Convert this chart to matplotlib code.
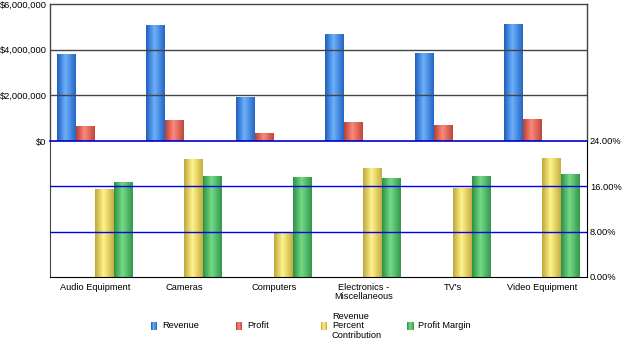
import numpy as np
import matplotlib
matplotlib.use("Agg")
import matplotlib.pyplot as plt
from matplotlib.colors import LinearSegmentedColormap
from matplotlib.ticker import FuncFormatter

categories = ["Audio Equipment", "Cameras", "Computers",
              "Electronics -\nMiscellaneous", "TV's", "Video Equipment"]
revenue = [3810000, 5080000, 1930000, 4690000, 3850000, 5120000]
profit = [660000, 920000, 350000, 830000, 700000, 960000]
rev_pct = [15.5, 20.8, 7.9, 19.2, 15.7, 21.0]
profit_margin = [16.8, 17.8, 17.6, 17.5, 17.8, 18.2]

series_names = ["Revenue", "Profit", "Revenue\nPercent\nContribution", "Profit Margin"]

# dark edge -> light -> dark edge
cmaps = {
    "blue": LinearSegmentedColormap.from_list("b", [(0, "#1f5fbf"), (0.45, "#6cb0fa"), (1, "#2466c4")]),
    "red": LinearSegmentedColormap.from_list("r", [(0, "#bb3f36"), (0.45, "#fa8a7c"), (1, "#c0463c")]),
    "yellow": LinearSegmentedColormap.from_list("y", [(0, "#bda83a"), (0.45, "#fff38c"), (1, "#c4ae40")]),
    "green": LinearSegmentedColormap.from_list("g", [(0, "#2c9146"), (0.45, "#74da86"), (1, "#33984c")]),
}
grad = np.linspace(0, 1, 64).reshape(1, -1)

plt.rcParams['font.family'] = ['Liberation Sans', 'DejaVu Sans']
fs = 6.7


def gradient_bars(ax, bars, cmap):
    for p in bars:
        x, y = p.get_x(), p.get_y()
        w, h = p.get_width(), p.get_height()
        im = ax.imshow(grad, extent=[x, x + w, y, y + h], aspect='auto',
                       cmap=cmap, zorder=2, interpolation='bilinear')
        im.set_clip_path(p)
        p.set_facecolor('none')


fig = plt.figure(figsize=(6.23, 3.41), dpi=100)
W, H = 623, 341
ax1 = fig.add_axes([50 / W, 1 - 141 / H, 537 / W, 137 / H])
ax2 = fig.add_axes([50 / W, 1 - 277 / H, 537 / W, 136 / H])

x = np.arange(len(categories))
bw = 0.212

b1 = ax1.bar(x - 1.5 * bw, revenue, bw, edgecolor='none', zorder=2)
b2 = ax1.bar(x - 0.5 * bw, profit, bw, edgecolor='none', zorder=2)
gradient_bars(ax1, b1, cmaps["blue"])
gradient_bars(ax1, b2, cmaps["red"])

b3 = ax2.bar(x + 0.5 * bw, rev_pct, bw, edgecolor='none', zorder=2)
b4 = ax2.bar(x + 1.5 * bw, profit_margin, bw, edgecolor='none', zorder=2)
gradient_bars(ax2, b3, cmaps["yellow"])
gradient_bars(ax2, b4, cmaps["green"])

# top panel
ax1.set_xlim(-0.5, 5.5)
ax1.set_ylim(0, 6000000)
ax1.set_yticks([0, 2000000, 4000000, 6000000])
ax1.yaxis.set_major_formatter(FuncFormatter(lambda v, p: "${:,.0f}".format(v)))
for v in [2000000, 4000000]:
    ax1.axhline(v, color="#444444", lw=1, zorder=3)
ax1.set_xticks([])
ax1.tick_params(axis='y', length=0, labelsize=fs, pad=2.5)
for s in ["top", "left", "right"]:
    ax1.spines[s].set_color("#444444")
    ax1.spines[s].set_linewidth(1)
ax1.spines["bottom"].set_visible(False)

# bottom panel
ax2.set_xlim(-0.5, 5.5)
ax2.set_ylim(0, 24)
ax2.yaxis.tick_right()
ax2.set_yticks([0, 8, 16, 24])
ax2.yaxis.set_major_formatter(FuncFormatter(lambda v, p: "{:.2f}%".format(v)))
for v in [8, 16]:
    ax2.axhline(v, color="#0000ee", lw=1, zorder=3)
ax2.axhline(24, color="#0000cc", lw=1.2, zorder=4, clip_on=False)
ax2.set_xticks(x)
ax2.set_xticklabels(categories, fontsize=fs, linespacing=1.05)
ax2.tick_params(axis='x', length=0, pad=4)
ax2.tick_params(axis='y', length=0, labelsize=fs, pad=2)
ax2.spines["top"].set_visible(False)
ax2.spines["left"].set_color("#444444")
ax2.spines["bottom"].set_color("black")
ax2.spines["right"].set_color("black")

# legend
legend_x = [151, 236, 321, 407]
legend_y = 326
for name, cm, lx in zip(series_names, ["blue", "red", "yellow", "green"], legend_x):
    lax = fig.add_axes([lx / W, 1 - (legend_y + 4) / H, 6 / W, 8 / H])
    lax.imshow(grad, aspect='auto', cmap=cmaps[cm], interpolation='bilinear')
    lax.set_axis_off()
    fig.text((lx + 11) / W, 1 - legend_y / H, name, fontsize=fs,
             ha='left', va='center', linespacing=1.05)

fig.savefig("out.png", dpi=100)
